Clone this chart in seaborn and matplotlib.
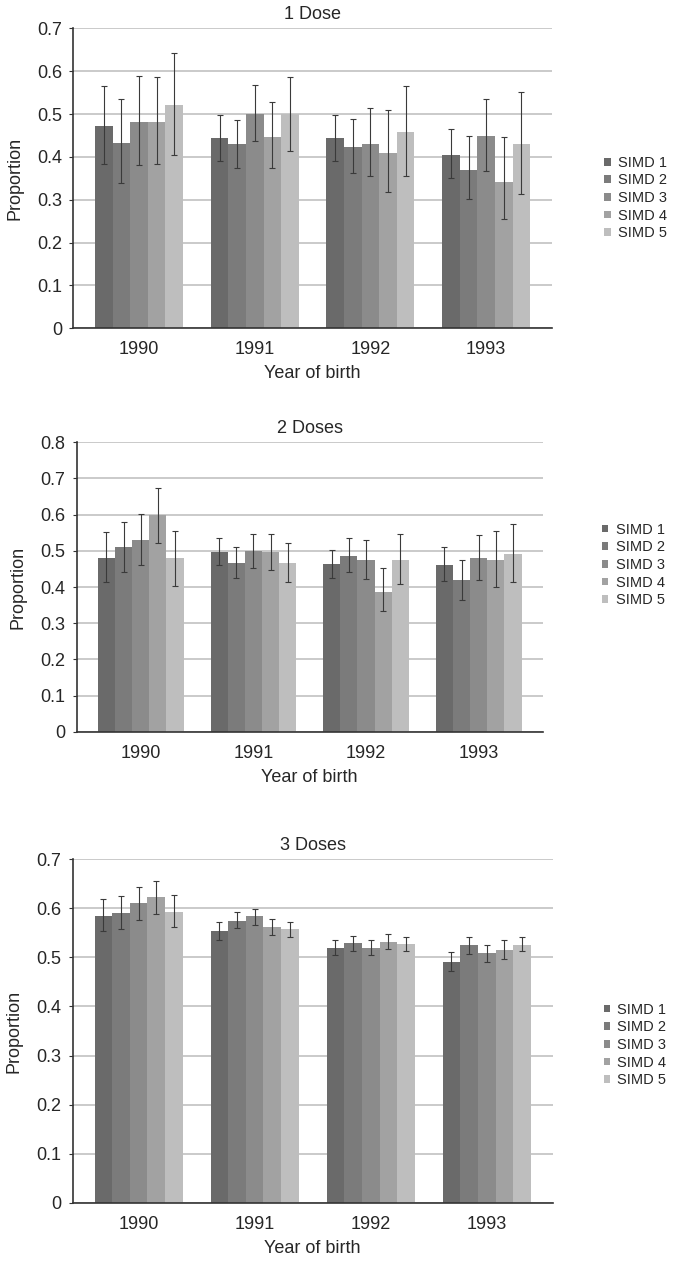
import matplotlib
matplotlib.use("Agg")
import matplotlib.pyplot as plt
import numpy as np
import pandas as pd
import seaborn as sns

years = ["1990", "1991", "1992", "1993"]
groups = ["SIMD 1", "SIMD 2", "SIMD 3", "SIMD 4", "SIMD 5"]

# rows = year, columns = SIMD 1..5
dose1 = [[0.472, 0.432, 0.482, 0.482, 0.522],
         [0.443, 0.429, 0.501, 0.446, 0.501],
         [0.443, 0.424, 0.430, 0.410, 0.458],
         [0.404, 0.369, 0.449, 0.342, 0.429]]
dose1_hi = [[0.565, 0.534, 0.589, 0.586, 0.642],
            [0.497, 0.486, 0.568, 0.527, 0.587],
            [0.497, 0.488, 0.514, 0.509, 0.565],
            [0.466, 0.448, 0.536, 0.447, 0.552]]
dose1_lo = [[0.383, 0.339, 0.381, 0.384, 0.404],
            [0.391, 0.373, 0.436, 0.373, 0.414],
            [0.391, 0.363, 0.355, 0.317, 0.355],
            [0.350, 0.301, 0.366, 0.254, 0.314]]

dose2 = [[0.480, 0.510, 0.529, 0.598, 0.480],
         [0.498, 0.467, 0.500, 0.498, 0.466],
         [0.464, 0.487, 0.476, 0.387, 0.476],
         [0.461, 0.418, 0.480, 0.475, 0.491]]
dose2_hi = [[0.552, 0.581, 0.601, 0.674, 0.556],
            [0.536, 0.511, 0.547, 0.547, 0.522],
            [0.502, 0.536, 0.531, 0.452, 0.547],
            [0.511, 0.476, 0.543, 0.555, 0.573]]
dose2_lo = [[0.413, 0.441, 0.461, 0.522, 0.404],
            [0.460, 0.425, 0.453, 0.446, 0.413],
            [0.425, 0.441, 0.421, 0.333, 0.408],
            [0.416, 0.364, 0.418, 0.399, 0.413]]

dose3 = [[0.585, 0.591, 0.610, 0.623, 0.593],
         [0.554, 0.575, 0.584, 0.561, 0.558],
         [0.520, 0.529, 0.520, 0.532, 0.527],
         [0.490, 0.525, 0.508, 0.516, 0.525]]
dose3_hi = [[0.619, 0.625, 0.643, 0.656, 0.627],
            [0.572, 0.592, 0.599, 0.578, 0.573],
            [0.536, 0.544, 0.536, 0.548, 0.542],
            [0.510, 0.542, 0.526, 0.536, 0.542]]
dose3_lo = [[0.554, 0.558, 0.577, 0.589, 0.561],
            [0.536, 0.559, 0.567, 0.546, 0.542],
            [0.504, 0.513, 0.505, 0.517, 0.513],
            [0.473, 0.507, 0.491, 0.497, 0.514]]

grays = ["#6a6a6a", "#7b7b7b", "#8b8b8b", "#a2a2a2", "#bebebe"]

sns.set_style("white")
plt.rcParams['font.family'] = ['Liberation Sans', 'DejaVu Sans']

fig = plt.figure(figsize=(6.73, 12.64), dpi=100)

panels = [
    ("1 Dose", dose1, dose1_hi, dose1_lo, 0.7, [0.109, 0.7403, 0.711, 0.2373], (1.097, 0.434)),
    ("2 Doses", dose2, dose2_hi, dose2_lo, 0.8, [0.114, 0.4211, 0.6924, 0.229], (1.114, 0.576)),
    ("3 Doses", dose3, dose3_hi, dose3_lo, 0.7, [0.108, 0.0485, 0.7132, 0.2717], (1.094, 0.459)),
]

for title, vals, hi, lo, ymax, rect, leg_pos in panels:
    ax = fig.add_axes(rect)
    rows = []
    for i, y in enumerate(years):
        for j, g in enumerate(groups):
            rows.append({"year": y, "simd": g, "p": vals[i][j],
                         "hi": hi[i][j], "lo": lo[i][j]})
    df = pd.DataFrame(rows)
    sns.barplot(data=df, x="year", y="p", hue="simd", hue_order=groups,
                order=years, palette=grays, width=0.76, errorbar=None,
                linewidth=0, ax=ax, zorder=2)
    # error bars at the bar centres seaborn placed
    for j, g in enumerate(groups):
        cont = ax.containers[j]
        for i, bar in enumerate(cont):
            xc = bar.get_x() + bar.get_width() / 2
            v = vals[i][j]
            ax.errorbar(xc, v, yerr=[[v - lo[i][j]], [hi[i][j] - v]],
                        fmt="none", ecolor="#3a3a3a", elinewidth=0.8,
                        capsize=2, capthick=0.8, zorder=3)
    ax.set_ylim(0, ymax)
    ax.set_yticks(np.arange(0, ymax + 0.001, 0.1))
    ax.set_yticklabels(["0"] + [f"{t:.1f}" for t in np.arange(0.1, ymax + 0.001, 0.1)])
    ax.yaxis.grid(True, color="#bcbcbc", linewidth=1.1, zorder=0)
    ax.set_axisbelow(True)
    for s in ["top", "right"]:
        ax.spines[s].set_visible(False)
    for s in ["left", "bottom"]:
        ax.spines[s].set_color("#333333")
        ax.spines[s].set_linewidth(1.2)
    ax.tick_params(axis="y", left=True, length=3, width=0.8, color="#333333",
                   labelsize=13, pad=5)
    ax.tick_params(axis="x", bottom=False, labelsize=13, pad=6)
    ax.set_title(title, fontsize=13, pad=7)
    ax.set_xlabel("Year of birth", fontsize=13, labelpad=5)
    ax.set_ylabel("Proportion", fontsize=13, labelpad=10)
    ax.legend(loc="center left", bbox_to_anchor=leg_pos, frameon=False,
              fontsize=10.5, handlelength=0.45, handleheight=0.45,
              handletextpad=0.5, labelspacing=0.25, borderaxespad=0)

fig.savefig("out.png", dpi=100)
